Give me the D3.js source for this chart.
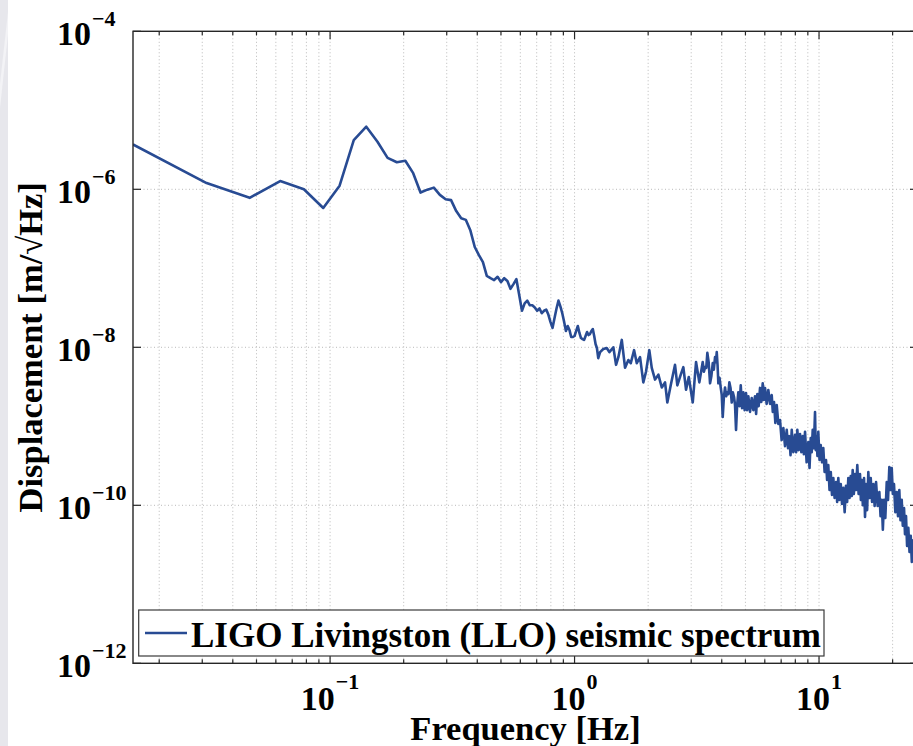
<!DOCTYPE html>
<html>
<head>
<meta charset="utf-8">
<script src="https://cdn.jsdelivr.net/npm/d3@7"></script>
<style>
  html, body { margin: 0; padding: 0; background: #fff; overflow: hidden; }
  svg { display: block; }
  text { font-family: "Liberation Serif", "Times New Roman", serif; font-weight: bold; fill: #000; }
</style>
</head>
<body>
<svg id="chart" width="913" height="746"></svg>
<script>
// Seismic displacement amplitude spectral density, LIGO Livingston.
// Frequencies in Hz; displacement in m/√Hz.
const frequencyHz = [
  0.015625, 0.03125, 0.046875, 0.0625, 0.078125, 0.09375, 0.109375, 0.125, 0.140625, 0.15625,
  0.171875, 0.1875, 0.203125, 0.21875, 0.234375, 0.25, 0.265625, 0.28125, 0.296875, 0.3125,
  0.328125, 0.34375, 0.359375, 0.375, 0.390625, 0.40625, 0.421875, 0.4375, 0.453125, 0.46875,
  0.484375, 0.5, 0.515625, 0.53125, 0.546875, 0.5625, 0.578125, 0.59375, 0.609375, 0.625,
  0.640625, 0.65625, 0.671875, 0.6875, 0.703125, 0.71875, 0.734375, 0.75, 0.765625, 0.78125,
  0.796875, 0.8125, 0.828125, 0.84375, 0.859375, 0.875, 0.890625, 0.90625, 0.921875, 0.9375,
  0.953125, 0.96875, 0.984375, 1.0, 1.015625, 1.03125, 1.046875, 1.0625, 1.078125, 1.09375,
  1.109375, 1.125, 1.140625, 1.15625, 1.171875, 1.1875, 1.203125, 1.21875, 1.234375, 1.25,
  1.272, 1.311, 1.354, 1.388, 1.441, 1.478, 1.511, 1.560, 1.609, 1.660,
  1.698, 1.752, 1.797, 1.853, 1.911, 1.960, 2.022, 2.069, 2.134, 2.202,
  2.274, 2.345, 2.396, 2.474, 2.576, 2.633, 2.719, 2.786, 2.858, 2.932,
  3.044, 3.140, 3.239,
  3.344, 3.382, 3.418, 3.457, 3.493, 3.536, 3.583, 3.627, 3.675, 3.713,
  3.755, 3.787, 3.816, 3.845, 3.874, 3.918, 3.963, 4.000, 4.037, 4.080,
  4.126, 4.169, 4.217, 4.256, 4.297, 4.345, 4.395, 4.440, 4.491, 4.533,
  4.576, 4.624, 4.676, 4.729, 4.784, 4.843, 4.902, 4.963, 5.028, 5.081,
  5.138, 5.222, 5.305, 5.386, 5.472, 5.529, 5.594, 5.662, 5.737, 5.808,
  5.884, 5.946, 6.013, 6.106, 6.202, 6.304, 6.404, 6.471, 6.546, 6.627,
  6.714, 6.817, 6.926, 7.031, 7.145, 7.260, 7.378, 7.468, 7.560, 7.645,
  7.733, 7.850, 7.977, 8.059, 8.152, 8.253, 8.362, 8.465, 8.577, 8.666,
  8.765, 8.898, 9.041, 9.145, 9.247, 9.335, 9.423, 9.522, 9.630, 9.694,
  9.77, 9.851, 9.93, 10.05, 10.16, 10.29, 10.41, 10.54, 10.68, 10.79,
  10.91, 11.04, 11.17, 11.30, 11.44, 11.58, 11.74, 11.86, 11.99, 12.13,
  12.27, 12.42, 12.57, 12.73, 12.89, 13.03, 13.18, 13.33, 13.48, 13.61,
  13.73, 13.88, 14.04, 14.18, 14.34, 14.52, 14.71, 14.83, 14.95, 15.11,
  15.28, 15.42, 15.57, 15.73, 15.91, 16.09, 16.27, 16.48, 16.68, 16.88,
  17.11, 17.37, 17.65, 17.85, 18.05, 18.24, 18.45, 18.67, 18.92, 19.15,
  19.39, 19.61, 19.83, 20.04, 20.26, 20.52, 20.79, 21.04, 21.30, 21.54,
  21.79, 22.01, 22.27, 22.47, 22.69, 22.92, 23.19, 23.45, 23.72, 23.96,
  24.24, 24.58, 24.93
];

const displacement = [
  3.7e-6, 1.2e-6, 7.8e-7, 1.27e-6, 1.0e-6, 5.8e-7, 1.11e-6, 4.2e-6, 6.2e-6, 4.0e-6,
  2.5e-6, 2.2e-6, 2.3e-6, 1.6e-6, 9.1e-7, 9.9e-7, 1.05e-6, 8.5e-7, 7.5e-7, 7.3e-7,
  5.3e-7, 4.3e-7, 4.1e-7, 3.0e-7, 1.86e-7, 1.47e-7, 1.2e-7, 8.0e-8, 7.5e-8, 7.1e-8,
  7.8e-8, 6.7e-8, 7.5e-8, 6.9e-8, 5.5e-8, 6.3e-8, 7.3e-8, 4.6e-8, 2.9e-8, 3.6e-8,
  3.9e-8, 3.4e-8, 3.4e-8, 3.2e-8, 2.9e-8, 3.1e-8, 2.7e-8, 2.9e-8, 3.0e-8, 2.6e-8,
  2.1e-8, 1.76e-8, 2.35e-8, 3.1e-8, 3.9e-8, 3.3e-8, 2.7e-8, 2.1e-8, 1.61e-8, 1.86e-8,
  1.66e-8, 1.35e-8, 1.35e-8, 1.39e-8, 1.61e-8, 1.86e-8, 1.52e-8, 1.31e-8, 1.27e-8, 1.24e-8,
  1.39e-8, 1.56e-8, 1.43e-8, 1.47e-8, 1.61e-8, 1.7e-8, 1.39e-8, 1.1e-8, 9.8e-9, 7.3e-9,
  8.7e-9, 9.5e-9, 9.8e-9, 8.7e-9, 1.0e-8, 6.0e-9, 7.5e-9, 1.24e-8, 5.5e-9, 6.9e-9,
  6.3e-9, 9.2e-9, 6.3e-9, 7.5e-9, 3.6e-9, 4.9e-9, 9.2e-9, 5.5e-9, 3.9e-9, 4.5e-9,
  3.1e-9, 3.6e-9, 2.0e-9, 3.3e-9, 6.0e-9, 3.3e-9, 4.5e-9, 5.6e-9, 2.9e-9, 4.2e-9,
  2.0e-9, 6.5e-9, 3.6e-9,
  6.5e-9, 4.9e-9, 5.6e-9, 5.5e-9, 8.5e-9, 6.5e-9, 3.5e-9, 4.3e-9, 6.3e-9, 5.2e-9,
  7.5e-9, 6.5e-9, 8.7e-9, 6.0e-9, 3.5e-9, 4.1e-9, 3.06e-9, 2.5e-9, 1.31e-9, 2.3e-9,
  3.1e-9, 2.4e-9, 2.7e-9, 2.56e-9, 3.6e-9, 3.06e-9, 2.0e-9, 2.7e-9, 2.35e-9, 1.86e-9,
  9.0e-10, 1.86e-9, 2.7e-9, 1.8e-9, 3.3e-9, 1.7e-9, 2.7e-9, 1.6e-9, 2.64e-9, 1.6e-9,
  2.4e-9, 1.52e-9, 2.28e-9, 1.6e-9, 2.4e-9, 1.43e-9, 2.56e-9, 1.8e-9, 3.06e-9, 2.03e-9,
  3.5e-9, 2.15e-9, 3.06e-9, 1.92e-9, 2.88e-9, 1.92e-9, 2.49e-9, 1.52e-9, 2.03e-9, 1.1e-9,
  1.86e-9, 1.07e-9, 1.2e-9, 6.7e-10, 9.5e-10, 5.6e-10, 9.0e-10, 5.3e-10, 7.5e-10, 4.3e-10,
  9.0e-10, 4.7e-10, 7.8e-10, 4.7e-10, 9.0e-10, 5.0e-10, 8.0e-10, 4.7e-10, 7.5e-10, 4.45e-10,
  8.5e-10, 3.5e-10, 6.3e-10, 2.97e-10, 7.1e-10, 4.7e-10, 9.0e-10, 5.3e-10, 1.52e-9, 5.0e-10,
  7.5e-10, 4.2e-10, 8.5e-10, 3.75e-10, 5.8e-10, 3.5e-10, 5.3e-10, 2.64e-10, 3.75e-10, 2.09e-10,
  3.24e-10, 1.56e-10, 2.64e-10, 1.35e-10, 2.22e-10, 1.24e-10, 1.97e-10, 1.1e-10, 2.22e-10, 1.17e-10,
  1.86e-10, 1.04e-10, 1.66e-10, 8.2e-11, 1.76e-10, 1.1e-10, 2.22e-10, 1.24e-10, 2.35e-10, 1.31e-10,
  2.8e-10, 1.39e-10, 2.49e-10, 1.56e-10, 3.24e-10, 1.39e-10, 2.49e-10, 1.17e-10, 2.09e-10, 1.0e-10,
  2.22e-10, 7.1e-11, 1.86e-10, 8.7e-11, 2.64e-10, 1.24e-10, 2.22e-10, 1.1e-10, 1.86e-10, 9.8e-11,
  1.97e-10, 9.8e-11, 1.47e-10, 7.3e-11, 1.17e-10, 4.9e-11, 1.17e-10, 6.9e-11, 1.97e-10, 1.17e-10,
  3.06e-10, 1.56e-10, 2.97e-10, 1.39e-10, 1.86e-10, 8.2e-11, 1.47e-10, 7.3e-11, 1.56e-10, 6.5e-11,
  1.17e-10, 5.5e-11, 9.2e-11, 4.3e-11, 7.3e-11, 3.06e-11, 5.2e-11, 2.56e-11, 4.1e-11, 1.92e-11,
  3.6e-11, 2.03e-11, 2.88e-11
];

const xMajorTicks = [0.1, 1, 10];
const xTickExponents = ["\u22121", "0", "1"];
const yMajorTicks = [1e-12, 1e-10, 1e-8, 1e-6, 1e-4];
const yTickExponents = ["\u221212", "\u221210", "\u22128", "\u22126", "\u22124"];
const seriesLabel = "LIGO Livingston (LLO) seismic spectrum";
const xTitle = "Frequency [Hz]";
const yTitle = "Displacement [m/\u221AHz]";

const lineColor = "#284b93";
const plot = { left: 133, right: 918, top: 31.3, bottom: 663.3 };

const svg = d3.select("#chart");

// Slide backdrop along the left edge
svg.append("rect").attr("x", 0).attr("y", 0).attr("width", 8).attr("height", 746).attr("fill", "#e7e7ec");
svg.append("path").attr("d", "M8,12 L8,34 L0,108 L0,84 Z").attr("fill", "#f3f3f6");

const x = d3.scaleLog().domain([0.015625, 25.4]).range([plot.left, plot.right]);
const y = d3.scaleLog().domain([1e-12, 1e-4]).range([plot.bottom, plot.top]);

// Minor (2..9) and major decade positions on the frequency axis
const xMinor = [];
[0.01, 0.1, 1, 10].forEach(dec => {
  for (let m = 2; m <= 9; m++) {
    const v = dec * m;
    if (v > x.domain()[0] && v < x.domain()[1]) xMinor.push(v);
  }
});
const xAllGrid = xMinor.concat(xMajorTicks);

// Dotted grid
const grid = svg.append("g").attr("stroke", "#b9b9b9").attr("stroke-width", 1).attr("stroke-dasharray", "1,2.5");
grid.selectAll("line.vx").data(xAllGrid).join("line")
  .attr("x1", d => x(d)).attr("x2", d => x(d))
  .attr("y1", plot.top).attr("y2", plot.bottom);
grid.selectAll("line.hy").data(yMajorTicks.filter(v => v > 1e-12 && v < 1e-4)).join("line")
  .attr("x1", plot.left).attr("x2", plot.right)
  .attr("y1", d => y(d)).attr("y2", d => y(d));

// Spectrum line
svg.append("clipPath").attr("id", "plotClip").append("rect")
  .attr("x", plot.left).attr("y", plot.top)
  .attr("width", plot.right - plot.left).attr("height", plot.bottom - plot.top);

const series = d3.zip(frequencyHz, displacement).map(([f, v]) => ({ f, v }));
const line = d3.line().x(d => x(d.f)).y(d => y(d.v));
svg.append("path")
  .datum(series)
  .attr("clip-path", "url(#plotClip)")
  .attr("fill", "none")
  .attr("stroke", lineColor)
  .attr("stroke-width", 2.6)
  .attr("stroke-linejoin", "round")
  .attr("d", line);

// Axes box
svg.append("rect")
  .attr("x", plot.left).attr("y", plot.top)
  .attr("width", plot.right - plot.left).attr("height", plot.bottom - plot.top)
  .attr("fill", "none").attr("stroke", "#262626").attr("stroke-width", 1.4);

// Inward ticks on all four sides
const ticks = svg.append("g").attr("stroke", "#262626").attr("stroke-width", 1.2);
const xTickLen = d => (xMajorTicks.includes(d) ? 8 : 4);
ticks.selectAll("line.xb").data(xAllGrid).join("line")
  .attr("x1", d => x(d)).attr("x2", d => x(d))
  .attr("y1", plot.bottom).attr("y2", d => plot.bottom - xTickLen(d));
ticks.selectAll("line.xt").data(xAllGrid, d => "t" + d).join("line")
  .attr("class", "xt")
  .attr("x1", d => x(d)).attr("x2", d => x(d))
  .attr("y1", plot.top).attr("y2", d => plot.top + xTickLen(d));
const yTickGroup = svg.append("g").attr("stroke", "#262626").attr("stroke-width", 1.2);
yTickGroup.selectAll("line.yl").data(yMajorTicks).join("line")
  .attr("x1", plot.left).attr("x2", plot.left + 8)
  .attr("y1", d => y(d)).attr("y2", d => y(d));
yTickGroup.selectAll("line.yr").data(yMajorTicks, d => "r" + d).join("line")
  .attr("x1", plot.right).attr("x2", plot.right - 8)
  .attr("y1", d => y(d)).attr("y2", d => y(d));

// Tick labels as powers of ten
const yLabels = svg.append("g");
yMajorTicks.forEach((v, i) => {
  const t = yLabels.append("text").attr("x", 57).attr("y", y(v) + 14).attr("font-size", 34);
  t.append("tspan").text("10");
  t.append("tspan").attr("font-size", 22).attr("dx", 1).attr("dy", -19).text(yTickExponents[i]);
});
const xLabels = svg.append("g");
xMajorTicks.forEach((v, i) => {
  const t = xLabels.append("text").attr("x", x(v)).attr("y", 710)
    .attr("text-anchor", "middle").attr("font-size", 34);
  t.append("tspan").text("10");
  t.append("tspan").attr("font-size", 22).attr("dx", 1).attr("dy", -21).text(xTickExponents[i]);
});

// Axis titles
svg.append("text")
  .attr("x", (plot.left + plot.right) / 2).attr("y", 740)
  .attr("text-anchor", "middle").attr("font-size", 34.5)
  .text(xTitle);
svg.append("text")
  .attr("transform", `translate(42,${(plot.top + plot.bottom) / 2}) rotate(-90)`)
  .attr("text-anchor", "middle").attr("font-size", 34.5)
  .text(yTitle);

// Legend
const legend = svg.append("g");
legend.append("rect")
  .attr("x", 138.7).attr("y", 610).attr("width", 685.3).attr("height", 46)
  .attr("fill", "#fff").attr("stroke", "#3a3a3a").attr("stroke-width", 1.2);
legend.append("line")
  .attr("x1", 145).attr("x2", 187).attr("y1", 633).attr("y2", 633)
  .attr("stroke", lineColor).attr("stroke-width", 2.6);
legend.append("text")
  .attr("x", 191).attr("y", 647).attr("font-size", 35)
  .text(seriesLabel);
</script>
</body>
</html>
